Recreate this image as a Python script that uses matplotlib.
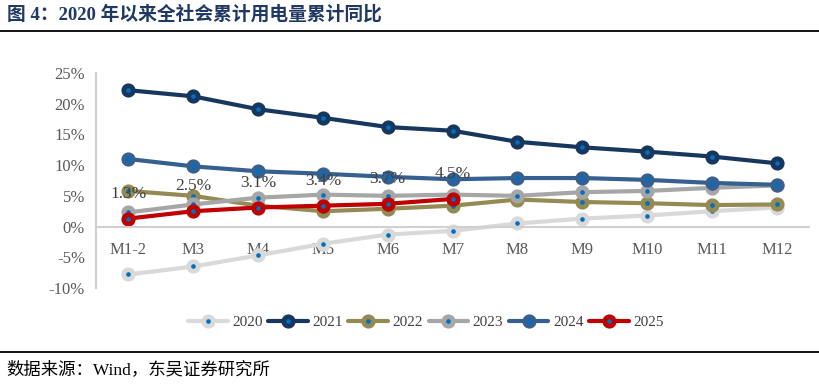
import matplotlib
matplotlib.use('Agg')
from matplotlib import pyplot as plt
from matplotlib.lines import Line2D

months = ['M1-2', 'M3', 'M4', 'M5', 'M6', 'M7', 'M8', 'M9', 'M10', 'M11', 'M12']
y2020 = [-7.8, -6.5, -4.7, -2.8, -1.3, -0.7, 0.5, 1.3, 1.8, 2.5, 3.1]
y2021 = [22.2, 21.2, 19.1, 17.7, 16.2, 15.6, 13.8, 12.9, 12.2, 11.4, 10.3]
y2022 = [5.8, 5.0, 3.4, 2.5, 2.9, 3.4, 4.4, 4.0, 3.8, 3.5, 3.6]
y2023 = [2.3, 3.6, 4.7, 5.2, 5.0, 5.2, 5.0, 5.6, 5.8, 6.3, 6.7]
y2024 = [11.0, 9.8, 9.0, 8.6, 8.1, 7.7, 7.9, 7.9, 7.6, 7.1, 6.8]
y2025 = [1.3, 2.5, 3.1, 3.4, 3.7, 4.5]

series = [('2020', y2020, '#D9D9D9'),
          ('2021', y2021, '#17375E'),
          ('2022', y2022, '#948A54'),
          ('2023', y2023, '#A6A6A6'),
          ('2024', y2024, '#35608F'),
          ('2025', y2025, '#C00000')]

plt.rcParams['font.family'] = ['Liberation Serif', 'Noto Sans CJK SC']
DOT = '#0070C0'

fig = plt.figure(figsize=(8.19, 3.86), dpi=100)
ax = fig.add_axes([0.1172, 0.2539, 0.8708, 0.557])

x = list(range(len(months)))
for name, vals, col in series:
    ax.plot(x[:len(vals)], vals, color=col, lw=3, marker='o', ms=6.8,
            mew=3.4, mec=col, mfc=DOT, label=name, solid_capstyle='round')

for xi, v in zip(x, y2025):
    ax.annotate('%.1f%%' % v, (xi, v), xytext=(0, 18), textcoords='offset points',
                ha='center', va='center', fontsize=12.5, color='#404040')

ax.set_xlim(-0.5, len(months) - 0.5)
ax.set_ylim(-10, 25)
yt = [-10, -5, 0, 5, 10, 15, 20, 25]
ax.set_yticks(yt)
ax.set_yticklabels(['%d%%' % t for t in yt])
ax.set_xticks(x)
ax.set_xticklabels(months)
ax.tick_params(length=0, labelsize=12, labelcolor='#595959')
ax.tick_params(axis='x', pad=11)
ax.tick_params(axis='y', pad=8)

for s in ['top', 'right']:
    ax.spines[s].set_visible(False)
ax.spines['bottom'].set_position(('data', 0))
ax.spines['bottom'].set_color('#D0D0D0')
ax.spines['bottom'].set_linewidth(1.5)
ax.spines['left'].set_color('#D0D0D0')
ax.spines['left'].set_linewidth(1.5)
ax.set_facecolor('none')

leg = fig.legend(loc='center', bbox_to_anchor=(0.520, 0.165), ncol=6, frameon=False,
                 prop={'size': 11}, handlelength=2.6,
                 handletextpad=0.3, columnspacing=0.35)
for t in leg.get_texts():
    t.set_color('#404040')

fig.text(0.008, 0.963, '图 4：2020 年以来全社会累计用电量累计同比', ha='left', va='center',
         fontsize=13.5, fontweight='bold', color='#1F3864')
fig.add_artist(Line2D([0, 1], [0.92, 0.92], color='black', lw=1.3))
fig.add_artist(Line2D([0, 1], [0.088, 0.088], color='black', lw=1.3))
fig.text(0.008, 0.043, '数据来源：Wind，东吴证券研究所', ha='left', va='center',
         fontsize=12.5, color='black')

fig.savefig('out.png', dpi=100)
